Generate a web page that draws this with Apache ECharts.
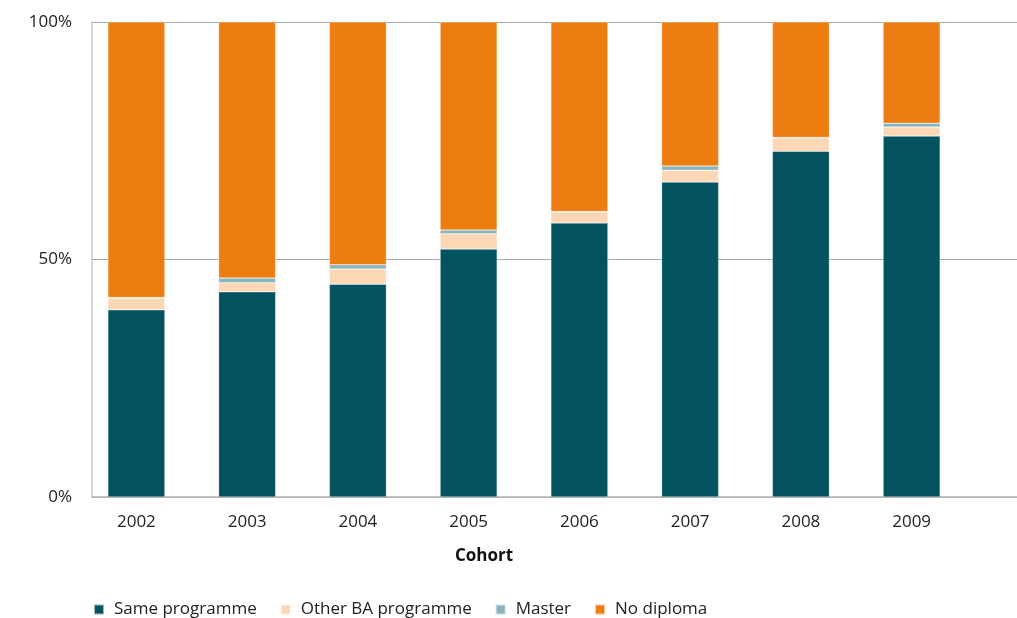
<!DOCTYPE html>
<html><head><meta charset="utf-8">
<script src="https://cdn.jsdelivr.net/npm/echarts@6/dist/echarts.min.js"></script>
<style>html,body{margin:0;padding:0;background:#fff}#c{width:1017px;height:618px}</style>
</head><body><div id="c"></div>
<script>
const years = ['2002', '2003', '2004', '2005', '2006', '2007', '2008', '2009'];
const sameProgramme = [39.4, 43.2, 44.8, 52.2, 57.7, 66.3, 72.8, 76.0];
const otherBA = [2.5, 1.9, 3.2, 3.2, 2.3, 2.5, 2.8, 1.9];
const master = [0.1, 1.0, 0.9, 0.8, 0.1, 0.9, 0.1, 0.8];
const noDiploma = years.map((y, i) => +(100 - sameProgramme[i] - otherBA[i] - master[i]).toFixed(1));
const yTicks = [0, 50, 100];

const font = '"Open Sans", "Noto Sans", sans-serif';
const mk = (name, arr, color) => ({
  name, type: 'bar', stack: 'all', barWidth: 57, data: arr,
  xAxisIndex: 0, yAxisIndex: 0,
  itemStyle: { color, borderColor: 'rgba(255,255,255,0.6)', borderWidth: 0.5 },
  emphasis: { disabled: true }
});
const chart = echarts.init(document.getElementById('c'));
chart.setOption({
  animation: false,
  textStyle: { fontFamily: font },
  grid: [
    { left: 81, right: 50, top: 22, bottom: 121, containLabel: false },
    { left: 92, right: 0, top: 22, bottom: 121, containLabel: false }
  ],
  xAxis: [{
    type: 'category', data: years, gridIndex: 0, boundaryGap: true,
    axisLine: { show: false }, axisTick: { show: false }, splitLine: { show: false },
    axisLabel: { color: '#222', fontSize: 17, margin: 17, fontFamily: font }
  }, {
    type: 'value', gridIndex: 1, min: 0, max: 1,
    axisLine: { show: true, onZero: false, lineStyle: { color: '#b4b4b4', width: 1.5 } },
    axisTick: { show: false }, axisLabel: { show: false }, splitLine: { show: false }
  }],
  yAxis: [{
    type: 'value', gridIndex: 0, min: 0, max: 100,
    axisLine: { show: false }, axisTick: { show: false },
    axisLabel: { show: false }, splitLine: { show: false }
  }, {
    type: 'value', gridIndex: 1, min: 0, max: 100, interval: 50,
    axisLine: { show: true, onZero: false, lineStyle: { color: '#c8c8c8', width: 1.5 } },
    axisTick: { show: false },
    splitLine: { show: true, lineStyle: { color: '#a8a8a8', width: 1 } },
    axisLabel: { color: '#222', fontSize: 17, margin: 20, fontFamily: font,
      formatter: v => yTicks.includes(v) ? v + '%' : '' }
  }],
  legend: {
    left: 88, top: 596, icon: 'rect', itemWidth: 10, itemHeight: 10, itemGap: 23,
    textStyle: { color: '#222', fontSize: 17, fontFamily: font, padding: [0, 0, 0, 5] },
    data: ['Same programme', 'Other BA programme', 'Master', 'No diploma']
  },
  graphic: [{ type: 'text', left: 455, top: 548,
    style: { text: 'Cohort', font: 'bold 17px ' + font, fill: '#111' } }],
  series: [
    mk('Same programme', sameProgramme, '#02535F'),
    mk('Other BA programme', otherBA, '#FBD7B5'),
    mk('Master', master, '#8AB4BC'),
    mk('No diploma', noDiploma, '#EE7D11')
  ]
});
</script></body></html>
